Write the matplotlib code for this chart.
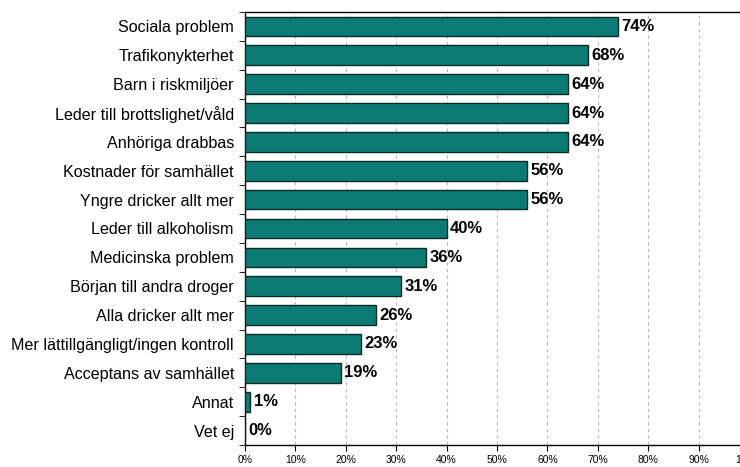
import matplotlib
matplotlib.use("Agg")
import matplotlib.pyplot as plt
import numpy as np

categories = ["Sociala problem", "Trafikonykterhet", "Barn i riskmiljöer",
              "Leder till brottslighet/våld", "Anhöriga drabbas",
              "Kostnader för samhället", "Yngre dricker allt mer",
              "Leder till alkoholism", "Medicinska problem",
              "Början till andra droger", "Alla dricker allt mer",
              "Mer lättillgängligt/ingen kontroll", "Acceptans av samhället",
              "Annat", "Vet ej"]
values = [74, 68, 64, 64, 64, 56, 56, 40, 36, 31, 26, 23, 19, 1, 0]
xticks = [0, 10, 20, 30, 40, 50, 60, 70, 80, 90, 100]
xtick_labels = ["0%", "10%", "20%", "30%", "40%", "50%", "60%", "70%", "80%", "90%", "100%"]

plt.rcParams['font.family'] = ['Liberation Sans', 'DejaVu Sans']

fig = plt.figure(figsize=(7.4, 4.67), dpi=100)
ax = fig.add_axes([245/740, 22/467, 504/740, 433/467])
n = len(categories)
y = np.arange(n)[::-1]
ax.barh(y, values, height=0.68, color="#0c7b74", edgecolor="#0d2a28", linewidth=1.0, zorder=3)
for yi, v in zip(y, values):
    ax.text(v + 0.7, yi, f"{v}%", va="center", ha="left", fontsize=12,
            fontweight="bold", color="black", zorder=4)

ax.set_xlim(0, 100)
ax.set_ylim(-0.5, n - 0.5)
ax.set_yticks(y)
ax.set_yticklabels(categories, fontsize=11.6)
ax.set_yticks(np.arange(-0.5, n, 1.0), minor=True)
ax.tick_params(axis="y", which="major", length=0, pad=8)
ax.tick_params(axis="y", which="minor", length=4, direction="out")
ax.set_xticks(xticks)
ax.set_xticklabels(xtick_labels, fontsize=7.5)
ax.tick_params(axis="x", length=4, direction="out", pad=3)
ax.grid(axis="x", linestyle=(0, (3, 3)), color="#b8b8b8", linewidth=0.8, zorder=0)
for s in ["left", "bottom", "top", "right"]:
    ax.spines[s].set_color("black")
    ax.spines[s].set_linewidth(1.0)

fig.savefig("out.png", dpi=100)
